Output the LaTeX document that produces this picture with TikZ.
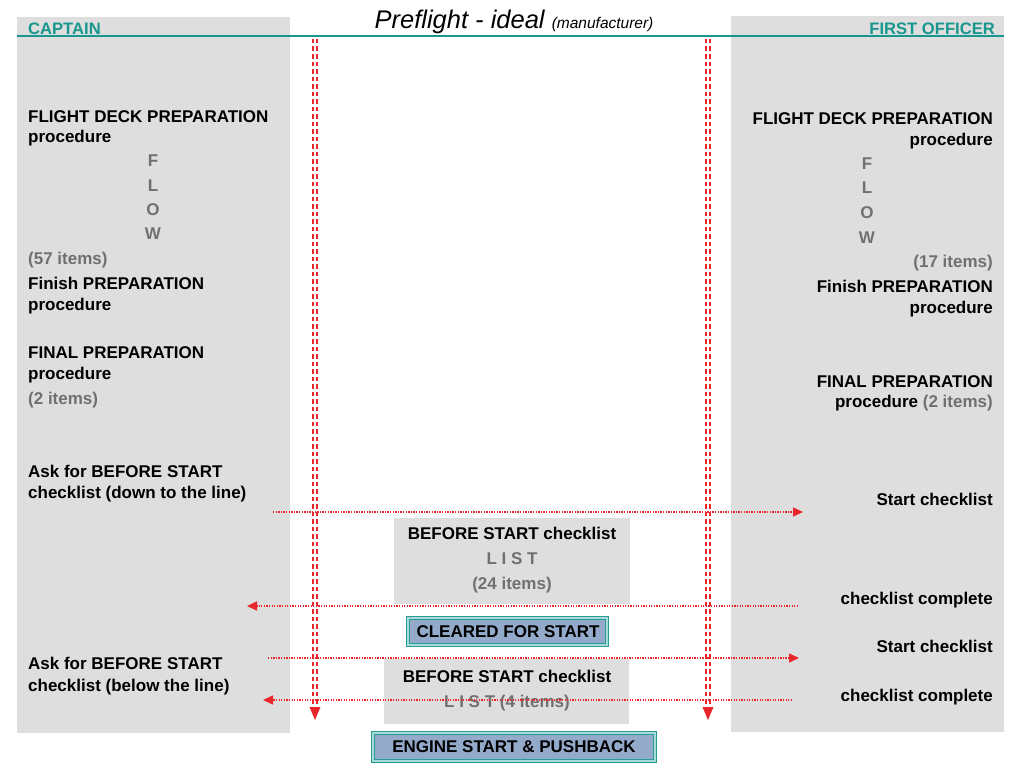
\documentclass[tikz,border=0pt]{standalone}
\usepackage{fontspec}
\setmainfont{Liberation Sans}
\usetikzlibrary{arrows.meta}
\definecolor{panel}{HTML}{DEDEDE}
\definecolor{tealc}{HTML}{17978D}
\definecolor{txtgray}{HTML}{707070}
\definecolor{redc}{HTML}{E8262B}
\definecolor{boxblue}{HTML}{93AACA}
\definecolor{boxedge}{HTML}{2A9C96}
\definecolor{boxmid}{HTML}{A8DADA}
\begin{document}
\begin{tikzpicture}[x=1pt,y=-1pt,
  lbl/.style={inner sep=0pt, font=\fontsize{17}{20}\selectfont\bfseries},
  L/.style={lbl, anchor=base west},
  R/.style={lbl, anchor=base east},
  C/.style={lbl, anchor=base},
  gr/.style={text=txtgray},
  head/.style={inner sep=0pt, text=tealc, font=\fontsize{16.6}{18}\selectfont\bfseries},
  graybox/.style={fill=panel, inner sep=0pt},
  bluebox/.style={fill=boxblue, draw=boxedge, double=boxmid, double distance=1.3pt, line width=1pt, inner sep=0pt},
  vdash/.style={draw=redc, line width=1.8pt, dash pattern=on 4.5pt off 3pt},
  hdot/.style={draw=redc, line width=1.5pt, dash pattern=on 1.3pt off 1.3pt, -{Triangle[length=10pt,width=9pt]}},
]
% canvas
\useasboundingbox[fill=white] (0,0) rectangle (1024,768);
\fill[panel] (17,17) rectangle (290,733);
\fill[panel] (731,16) rectangle (1004,732);
\draw[tealc, line width=1.2pt] (17,36) -- (1004,36);

% title and headings
\node[anchor=base, inner sep=0pt] (title) at (514,29) {\fontsize{25.5}{26}\selectfont\itshape Preflight - ideal {\fontsize{15.5}{16}\selectfont (manufacturer)}};
\node[head, anchor=base west] (capt) at (28,35) {CAPTAIN};
\node[head, anchor=base east] (fo) at (995,35) {FIRST OFFICER};

% captain column
\node[L] (c1) at (28,122) {FLIGHT DECK PREPARATION};
\node[L] (c2) at (28,142) {procedure};
\node[C,gr] (cF) at (153,166) {F};
\node[C,gr] (cL) at (153,191) {L};
\node[C,gr] (cO) at (153,215) {O};
\node[C,gr] (cW) at (153,239) {W};
\node[L,gr] (c57) at (28,264) {(57 items)};
\node[L] (c3) at (28,289) {Finish PREPARATION};
\node[L] (c4) at (28,310) {procedure};
\node[L] (c5) at (28,358) {FINAL PREPARATION};
\node[L] (c6) at (28,379) {procedure};
\node[L,gr] (c7) at (28,404) {(2 items)};
\node[L] (c8) at (28,477) {Ask for BEFORE START};
\node[L] (c9) at (28,498) {checklist (down to the line)};
\node[L] (c10) at (28,669) {Ask for BEFORE START};
\node[L] (c11) at (28,691) {checklist (below the line)};

% first officer column
\node[R] (f1) at (993,124) {FLIGHT DECK PREPARATION};
\node[R] (f2) at (993,145) {procedure};
\node[C,gr] (fF) at (867,169) {F};
\node[C,gr] (fL) at (867,193) {L};
\node[C,gr] (fO) at (867,218) {O};
\node[C,gr] (fW) at (867,243) {W};
\node[R,gr] (f17) at (993,267) {(17 items)};
\node[R] (f3) at (993,292) {Finish PREPARATION};
\node[R] (f4) at (993,313) {procedure};
\node[R] (f5) at (993,387) {FINAL PREPARATION};
\node[R] (f6) at (993,407) {procedure \textcolor{txtgray}{(2 items)}};
\node[R] (f7) at (993,505) {Start checklist};
\node[R] (f8) at (993,604) {checklist complete};
\node[R] (f9) at (993,652) {Start checklist};
\node[R] (f10) at (993,701) {checklist complete};

% centre boxes
\node[graybox, minimum width=236pt, minimum height=86pt] (box1) at (512,561) {};
\node[C] (b1a) at (512,539) {BEFORE START checklist};
\node[C,gr] (b1b) at (512,564) {L I S T};
\node[C,gr] (b1c) at (512,589) {(24 items)};

\node[bluebox, minimum width=199pt, minimum height=27pt] (clr) at (507.5,631.5) {};
\node[C] (clrt) at (508,637) {CLEARED FOR START};

\node[graybox, minimum width=245pt, minimum height=65pt] (box2) at (506.5,691.5) {};
\node[C] (b2a) at (507,682) {BEFORE START checklist};
\node[C,gr] (b2b) at (507,707) {L I S T (4 items)};

\node[bluebox, minimum width=282pt, minimum height=28pt] (eng) at (514,747) {};
\node[C] (engt) at (514,752) {ENGINE START \& PUSHBACK};

% vertical timelines
\coordinate (lt) at (315,39);
\coordinate (lb) at (315,707);
\coordinate (rt) at (708,39);
\coordinate (rb) at (708,707);
\draw[vdash] ([xshift=-2.2pt]lt) -- ([xshift=-2.2pt]lb);
\draw[vdash] ([xshift=2.2pt]lt) -- ([xshift=2.2pt]lb);
\draw[vdash] ([xshift=-2.2pt]rt) -- ([xshift=-2.2pt]rb);
\draw[vdash] ([xshift=2.2pt]rt) -- ([xshift=2.2pt]rb);
\fill[redc] ([xshift=-5.5pt]lb) -- ([xshift=5.5pt]lb) -- ([yshift=-13pt]lb) -- cycle;
\fill[redc] ([xshift=-5.5pt]rb) -- ([xshift=5.5pt]rb) -- ([yshift=-13pt]rb) -- cycle;

% horizontal messages
\coordinate (a1s) at (273,512);
\coordinate (a1e) at (803,512);
\coordinate (a2s) at (798,606);
\coordinate (a2e) at (247,606);
\coordinate (a3s) at (268,658);
\coordinate (a3e) at (799,658);
\coordinate (a4s) at (792,700);
\coordinate (a4e) at (263,700);
\draw[hdot] (a1s) -- (a1e);
\draw[hdot] (a2s) -- (a2e);
\draw[hdot] (a3s) -- (a3e);
\draw[hdot] (a4s) -- (a4e);
\end{tikzpicture}
\end{document}
